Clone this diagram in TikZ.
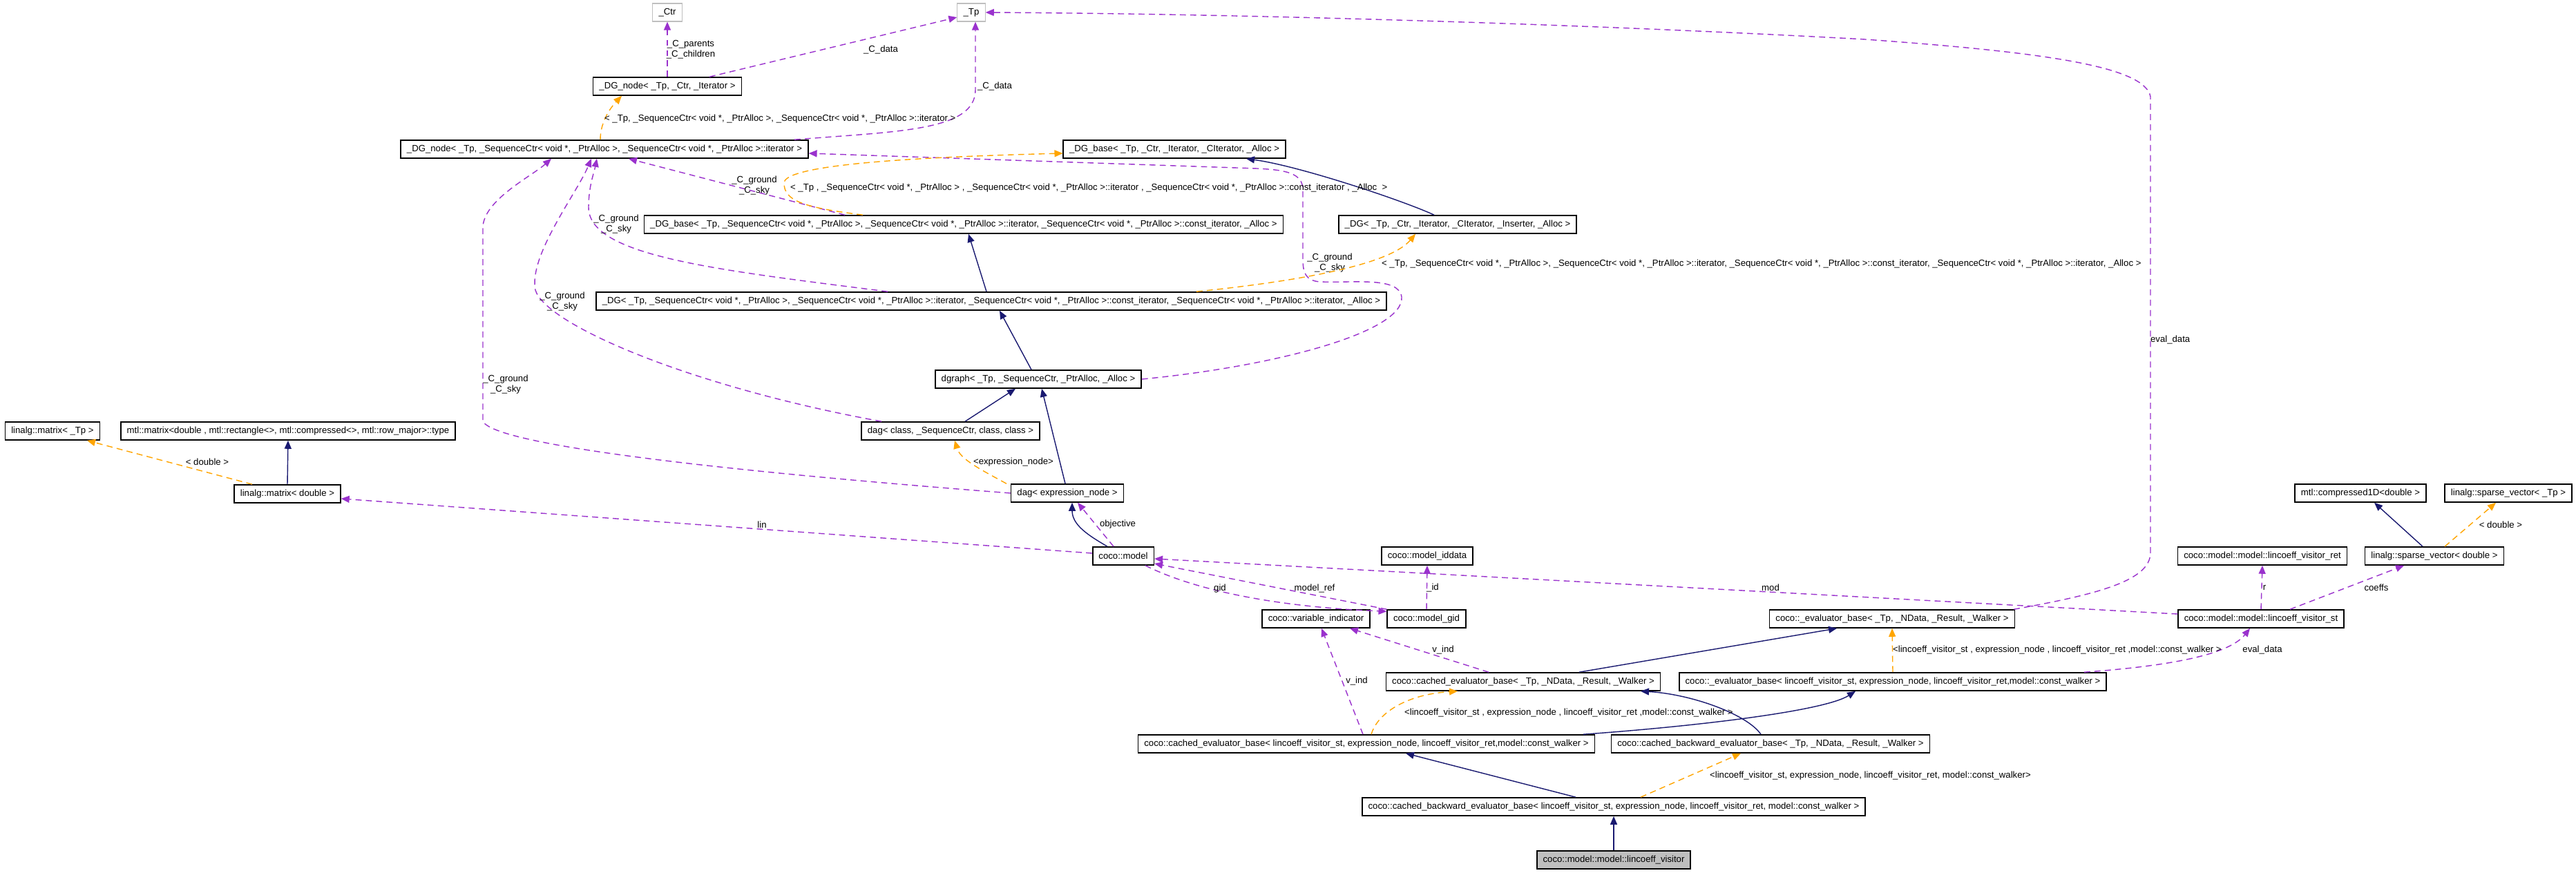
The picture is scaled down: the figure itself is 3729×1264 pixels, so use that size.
\documentclass[tikz,border=0pt]{standalone}
\usepackage{fontspec}
\setmainfont{Liberation Sans}
\usepackage{tikz}
\usetikzlibrary{positioning, arrows.meta, calc}

\begin{document}
\begin{tikzpicture}[
    x=0.02cm, y=-0.02cm,
    clase/.style={draw=black, line width=0.9pt, fill=white, inner xsep=5pt, inner ysep=0pt, minimum height=0.52cm, font=\fontsize{7.5}{9}\selectfont},
    ext/.style={clase, draw=cGris, line width=0.7pt},
    actual/.style={clase, fill=cGris},
    etiq/.style={inner sep=1pt, align=center, font=\fontsize{7.5}{8.5}\selectfont},
    her/.style={draw=cHer, line width=0.8pt, -{Triangle[length=0.24cm, width=0.2cm]}},
    uso/.style={draw=cUso, line width=0.8pt, dash pattern=on 5pt off 3.5pt, -{Triangle[length=0.24cm, width=0.2cm]}},
    tpl/.style={draw=cTpl, line width=0.8pt, dash pattern=on 5pt off 3.5pt, -{Triangle[length=0.24cm, width=0.2cm]}}]

\definecolor{cHer}{HTML}{191970}
\definecolor{cUso}{HTML}{9A32CD}
\definecolor{cTpl}{HTML}{FFA500}
\definecolor{cGris}{HTML}{BFBFBF}

\path[fill=white, use as bounding box] (0,0) rectangle (3729,1264);

% CLASES (arriba)
\node[ext] (ctr) at (966,18) {\_Ctr};
\node[ext] (tp) at (1406,18) {\_Tp};
\node[clase] (dgnodeA) at (966,125) {\_DG\_node< \_Tp, \_Ctr, \_Iterator >};
\node[clase] (dgnodeB) at (875,216) {\_DG\_node< \_Tp, \_SequenceCtr< void *, \_PtrAlloc >, \_SequenceCtr< void *, \_PtrAlloc >::iterator >};
\node[clase] (dgbaseA) at (1700,216) {\_DG\_base< \_Tp, \_Ctr, \_Iterator, \_CIterator, \_Alloc >};
\node[clase] (dgbaseB) at (1395,325) {\_DG\_base< \_Tp, \_SequenceCtr< void *, \_PtrAlloc >, \_SequenceCtr< void *, \_PtrAlloc >::iterator, \_SequenceCtr< void *, \_PtrAlloc >::const\_iterator, \_Alloc >};
\node[clase] (dgA) at (2110,325) {\_DG< \_Tp, \_Ctr, \_Iterator, \_CIterator, \_Inserter, \_Alloc >};
\node[clase] (dgB) at (1435,436) {\_DG< \_Tp, \_SequenceCtr< void *, \_PtrAlloc >, \_SequenceCtr< void *, \_PtrAlloc >::iterator, \_SequenceCtr< void *, \_PtrAlloc >::const\_iterator, \_SequenceCtr< void *, \_PtrAlloc >::iterator, \_Alloc >};
\node[clase] (dgraph) at (1503,549) {dgraph< \_Tp, \_SequenceCtr, \_PtrAlloc, \_Alloc >};
\node[clase] (dagA) at (1376,624) {dag< class, \_SequenceCtr, class, class >};
\node[clase] (dagB) at (1545,714) {dag< expression\_node >};

% CLASES (izquierda)
\node[clase] (matTp) at (76,624) {linalg::matrix< \_Tp >};
\node[clase] (mtlmat) at (417,624) {mtl::matrix<double , mtl::rectangle<>, mtl::compressed<>, mtl::row\_major>::type};
\node[clase] (matD) at (416,715) {linalg::matrix< double >};

% CLASES (coco)
\node[clase] (model) at (1626,805) {coco::model};
\node[clase] (iddata) at (2066,805) {coco::model\_iddata};
\node[clase] (varind) at (1905,896) {coco::variable\_indicator};
\node[clase] (gid) at (2065,896) {coco::model\_gid};
\node[clase] (evbaseA) at (2739,896) {coco::\_evaluator\_base< \_Tp, \_NData, \_Result, \_Walker >};
\node[clase] (cevA) at (2205,987) {coco::cached\_evaluator\_base< \_Tp, \_NData, \_Result, \_Walker >};
\node[clase] (evbaseB) at (2740,987) {coco::\_evaluator\_base< lincoeff\_visitor\_st, expression\_node, lincoeff\_visitor\_ret,model::const\_walker >};
\node[clase] (cevB) at (1978,1077) {coco::cached\_evaluator\_base< lincoeff\_visitor\_st, expression\_node, lincoeff\_visitor\_ret,model::const\_walker >};
\node[clase] (cbevA) at (2563,1077) {coco::cached\_backward\_evaluator\_base< \_Tp, \_NData, \_Result, \_Walker >};
\node[clase] (cbevB) at (2336,1168) {coco::cached\_backward\_evaluator\_base< lincoeff\_visitor\_st, expression\_node, lincoeff\_visitor\_ret, model::const\_walker >};
\node[actual] (visitor) at (2336,1245) {coco::model::model::lincoeff\_visitor};

% CLASES (derecha)
\node[clase] (comp1d) at (3417,714) {mtl::compressed1D<double >};
\node[clase] (spvTp) at (3631,714) {linalg::sparse\_vector< \_Tp >};
\node[clase] (visret) at (3275,805) {coco::model::model::lincoeff\_visitor\_ret};
\node[clase] (spvD) at (3524,805) {linalg::sparse\_vector< double >};
\node[clase] (visst) at (3273,896) {coco::model::model::lincoeff\_visitor\_st};

% HERENCIA
\draw[her] ($(dgA.north)+(-34,0)$) .. controls (2030,290) and (1880,240) .. ($(dgbaseA.south)+(104,0)$);
\draw[her] ($(dgB.north)+(-7,0)$) -- ($(dgbaseB.south)+(7,0)$);
\draw[her] ($(dgraph.north)+(-10,0)$) -- ($(dgB.south)+(12,0)$);
\draw[her] ($(dagA.north)+(21,0)$) -- ($(dgraph.south)+(-33,0)$);
\draw[her] ($(dagB.north)+(-3,0)$) -- ($(dgraph.south)+(5,0)$);
\draw[her] ($(model.north)+(-23,0)$) .. controls (1575,775) and (1552,760) .. ($(dagB.south)+(7,0)$);
\draw[her] (matD.north) -- (mtlmat.south);
\draw[her] ($(spvD.north)+(-17,0)$) -- ($(comp1d.south)+(20,0)$);
\draw[her] ($(cevA.north)+(81,0)$) -- ($(evbaseA.south)+(-80,0)$);
\draw[her] ($(cevB.north)+(314,0)$) .. controls (2450,1052) and (2640,1030) .. ($(evbaseB.south)+(-54,0)$);
\draw[her] ($(cbevA.north)+(-14,0)$) .. controls (2530,1035) and (2450,1005) .. ($(cevA.south)+(170,0)$);
\draw[her] ($(cbevB.north)+(-55,0)$) -- ($(cevB.south)+(57,0)$);
\draw[her] (visitor.north) -- (cbevB.south);

% USO (miembros)
\draw[uso] (dgnodeA.north) -- (ctr.south);
\node[etiq] (lParents) at (1000,72) {\_C\_parents\\\_C\_children};
\draw[uso] ($(dgnodeA.north)+(61,0)$) -- ($(tp.west)+(0,7)$);
\node[etiq] (lDataA) at (1275,72) {\_C\_data};
\draw[uso] ($(dgnodeB.north)+(275,0)$) .. controls (1300,190) and (1412,190) .. (1412,130) -- ($(tp.south)+(6,0)$);
\node[etiq] (lDataB) at (1440,125) {\_C\_data};
\draw[uso] ($(dgbaseB.north)+(-172,0)$) -- ($(dgnodeB.south)+(35,0)$);
\node[etiq] (lSkyA) at (1092,269) {\_C\_ground\\\_C\_sky};
\draw[uso] ($(dgB.north)+(-150,0)$) .. controls (1030,390) and (852,370) .. (852,300) .. controls (852,270) and (860,250) .. ($(dgnodeB.south)+(-11,0)$);
\node[etiq] (lSkyB) at (892,325) {\_C\_ground\\\_C\_sky};
\draw[uso] ($(dagA.north)+(-100,0)$) .. controls (1000,560) and (790,470) .. (775,420) .. controls (765,370) and (835,280) .. ($(dgnodeB.south)+(-19,0)$);
\node[etiq] (lSkyC) at (814,437) {\_C\_ground\\\_C\_sky};
\draw[uso] (dagB.west) .. controls (1150,690) and (720,650) .. (699,610) -- (699,330) .. controls (699,290) and (770,255) .. ($(dgnodeB.south)+(-77,0)$);
\node[etiq] (lSkyD) at (732,557) {\_C\_ground\\\_C\_sky};
\draw[uso] (dgraph.east) .. controls (1850,530) and (2033,480) .. (2029,430) .. controls (2025,400) and (1960,410) .. (1910,408) .. controls (1890,406) and (1886,395) .. (1886,375) -- (1886,275) .. controls (1886,250) and (1860,246) .. (1820,244) -- ($(dgnodeB.east)+(0,6)$);
\node[etiq] (lSkyE) at (1925,381) {\_C\_ground\\\_C\_sky};
\draw[uso] ($(evbaseA.north east)+(-2,0)$) .. controls (3040,860) and (3113,840) .. (3113,800) -- (3113,140) .. controls (3105,95) and (2950,75) .. (2700,57) .. controls (2300,35) and (1800,20) .. (tp.east);
\node[etiq, anchor=west] (lEvalA) at (3111,492) {eval\_data};
\draw[uso] ($(model.north)+(-14,0)$) -- ($(dagB.south)+(15,0)$);
\node[etiq] (lObj) at (1618,759) {objective};
\draw[uso] ($(model.west)+(0,-4)$) -- ($(matD.east)+(0,7)$);
\node[etiq] (lLin) at (1103,760) {lin};
\draw[uso] ($(model.south)+(32,0)$) .. controls (1720,850) and (1830,878) .. ($(gid.north west)+(0,3)$);
\node[etiq] (lGid) at (1766,852) {gid};
\draw[uso] (gid.north west) -- ($(model.east)+(0,11)$);
\node[etiq] (lRef) at (1903,852) {model\_ref};
\draw[uso] ($(visst.west)+(0,-7)$) -- ($(model.east)+(0,4)$);
\node[etiq] (lMod) at (2563,851) {mod};
\draw[uso] (gid.north) -- (iddata.south);
\node[etiq] (lId) at (2074,851) {\_id};
\draw[uso] ($(cevA.north)+(-50,0)$) -- ($(varind.south)+(49,0)$);
\node[etiq] (lVindA) at (2089,941) {v\_ind};
\draw[uso] ($(cevB.north)+(-5,0)$) -- ($(varind.south)+(8,0)$);
\node[etiq] (lVindB) at (1964,986) {v\_ind};
\draw[uso] (visst.north) -- (visret.south);
\node[etiq] (lR) at (3278,851) {r};
\draw[uso] ($(visst.north)+(42,0)$) -- ($(spvD.south)+(-44,0)$);
\node[etiq] (lCoeffs) at (3440,851) {coeffs};
\draw[uso] ($(evbaseB.north)+(277,0)$) .. controls (3130,965) and (3225,950) .. ($(visst.south)+(-16,0)$);
\node[etiq] (lEvalB) at (3275,941) {eval\_data};

% PLANTILLAS (instancias)
\draw[tpl] ($(dgnodeB.north)+(-6,0)$) .. controls (869,180) and (880,160) .. ($(dgnodeA.south)+(-66,0)$);
\node[etiq, anchor=west] (tNode) at (873,172) {< \_Tp, \_SequenceCtr< void *, \_PtrAlloc >, \_SequenceCtr< void *, \_PtrAlloc >::iterator >};
\draw[tpl] ($(dgbaseB.north)+(-146,0)$) .. controls (1160,300) and (1135,290) .. (1135,265) .. controls (1135,240) and (1300,228) .. ($(dgbaseA.west)+(0,6)$);
\node[etiq, anchor=west] (tBase) at (1142,272) {< \_Tp , \_SequenceCtr< void *, \_PtrAlloc > , \_SequenceCtr< void *, \_PtrAlloc >::iterator , \_SequenceCtr< void *, \_PtrAlloc >::const\_iterator , \_Alloc~ >};
\draw[tpl] ($(dgB.north)+(297,0)$) .. controls (1870,408) and (2010,385) .. ($(dgA.south)+(-61,0)$);
\node[etiq, anchor=west] (tDG) at (1998,382) {< \_Tp, \_SequenceCtr< void *, \_PtrAlloc >, \_SequenceCtr< void *, \_PtrAlloc >::iterator, \_SequenceCtr< void *, \_PtrAlloc >::const\_iterator, \_SequenceCtr< void *, \_PtrAlloc >::iterator, \_Alloc >};
\draw[tpl] ($(dagB.north west)+(-6,0)$) .. controls (1420,680) and (1390,665) .. ($(dagA.south)+(6,0)$);
\node[etiq] (tDag) at (1467,669) {<expression\_node>};
\draw[tpl] ($(matD.north)+(-51,0)$) -- ($(matTp.south)+(50,0)$);
\node[etiq] (tMat) at (300,669) {< double >};
\draw[tpl] ($(spvD.north)+(15,0)$) -- ($(spvTp.south)+(-18,0)$);
\node[etiq] (tSpv) at (3620,760) {< double >};
\draw[tpl] (evbaseB.north) -- (evbaseA.south);
\node[etiq, anchor=west] (tEval) at (2738,941) {<lincoeff\_visitor\_st , expression\_node , lincoeff\_visitor\_ret ,model::const\_walker >};
\draw[tpl] ($(cevB.north)+(7,0)$) .. controls (1995,1030) and (2040,1005) .. ($(cevA.south)+(-95,0)$);
\node[etiq, anchor=west] (tCev) at (2031,1032) {<lincoeff\_visitor\_st , expression\_node , lincoeff\_visitor\_ret ,model::const\_walker >};
\draw[tpl] ($(cbevB.north)+(39,0)$) -- ($(cbevA.south)+(-43,0)$);
\node[etiq, anchor=west] (tCbev) at (2473,1123) {<lincoeff\_visitor\_st, expression\_node, lincoeff\_visitor\_ret, model::const\_walker>};

\end{tikzpicture}
\end{document}
